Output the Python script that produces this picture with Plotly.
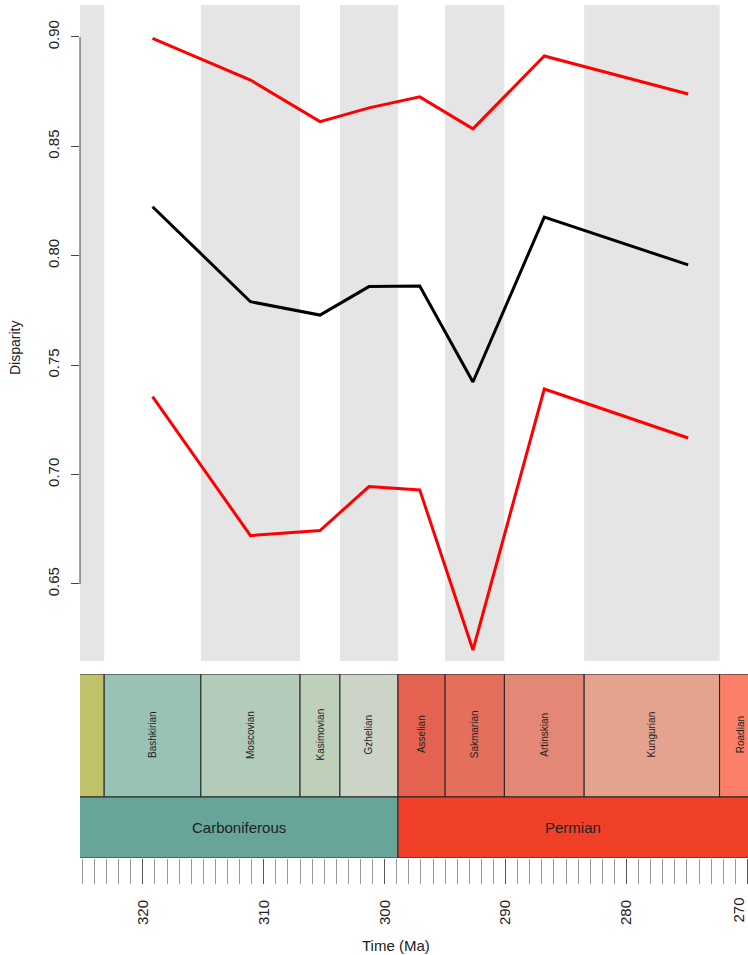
import plotly.graph_objects as go

# Bin midpoints (Ma) and disparity estimates
time_ma = [319.2, 311.1, 305.35, 301.3, 297.1, 292.7, 286.8, 274.9]
disparity = [0.8224, 0.7790, 0.7729, 0.7859, 0.7862, 0.7423, 0.8177, 0.7958]
upper_ci = [0.8994, 0.8803, 0.8613, 0.8676, 0.8726, 0.8580, 0.8913, 0.8739]
lower_ci = [0.7356, 0.6721, 0.6744, 0.6945, 0.6930, 0.6198, 0.7391, 0.7167]

# Stages (GTS2012): name, start, end, colour
stage_names = ["Serpukhovian", "Bashkirian", "Moscovian", "Kasimovian", "Gzhelian",
               "Asselian", "Sakmarian", "Artinskian", "Kungurian", "Roadian"]
stage_start = [330.9, 323.2, 315.2, 307.0, 303.7, 298.9, 295.0, 290.1, 283.5, 272.3]
stage_end = [323.2, 315.2, 307.0, 303.7, 298.9, 295.0, 290.1, 283.5, 272.3, 268.8]
stage_colors = ["#BFC26B", "#99C2B5", "#B3CBB9", "#BFD0BA", "#CCD4C7",
                "#E36350", "#E36F5C", "#E38776", "#E3A38F", "#FB8069"]
stage_labelled = [False, True, True, True, True, True, True, True, True, True]

# Periods
period_names = ["Carboniferous", "Permian"]
period_start = [358.9, 298.9]
period_end = [298.9, 252.2]
period_colors = ["#67A599", "#F04028"]

y_ticks = [0.65, 0.70, 0.75, 0.80, 0.85, 0.90]
x_ticks = [320, 310, 300, 290, 280, 270]

W, H = 748, 955
X_RANGE = [325.2, 269.95]
x_dom = [80 / W, 1.0]
top_dom = [(H - 661) / H, (H - 5) / H]
scale_dom = [(H - 858) / H, (H - 674) / H]
PERIOD_H, SCALE_H = 61, 184
FONT = "Liberation Sans, Arial, sans-serif"

fig = go.Figure()

fig.add_trace(go.Scatter(x=time_ma, y=upper_ci, mode="lines",
                         line=dict(color="#FF0000", width=3), xaxis="x", yaxis="y"))
fig.add_trace(go.Scatter(x=time_ma, y=lower_ci, mode="lines",
                         line=dict(color="#FF0000", width=3), xaxis="x", yaxis="y"))
fig.add_trace(go.Scatter(x=time_ma, y=disparity, mode="lines",
                         line=dict(color="#000000", width=3), xaxis="x", yaxis="y"))
# invisible trace so the timescale axes are drawn
fig.add_trace(go.Scatter(x=[300], y=[0], mode="markers", marker=dict(opacity=0),
                         xaxis="x2", yaxis="y2", hoverinfo="skip"))

shapes = []
annotations = []

# alternating grey stage bands behind the curves
for i in range(len(stage_names)):
    if i % 2 == 0:
        shapes.append(dict(type="rect", xref="x", yref="paper",
                           x0=stage_start[i], x1=stage_end[i],
                           y0=top_dom[0], y1=top_dom[1],
                           fillcolor="#e5e5e5", line=dict(width=0), layer="below"))

# stage row of the timescale
for name, s, e, c, lab in zip(stage_names, stage_start, stage_end, stage_colors, stage_labelled):
    shapes.append(dict(type="rect", xref="x2", yref="y2", x0=s, x1=e,
                       y0=PERIOD_H, y1=SCALE_H, fillcolor=c,
                       line=dict(color="#222222", width=1)))
    if lab:
        annotations.append(dict(x=(s + e) / 2, y=(PERIOD_H + SCALE_H) / 2 + 1,
                                xref="x2", yref="y2", text=name, showarrow=False,
                                textangle=-90, font=dict(family=FONT, size=10, color="#222222")))

# period row of the timescale, labels centred on the visible part of each box
for name, s, e, c in zip(period_names, period_start, period_end, period_colors):
    shapes.append(dict(type="rect", xref="x2", yref="y2", x0=s, x1=e,
                       y0=0, y1=PERIOD_H, fillcolor=c,
                       line=dict(color="#222222", width=1)))
    vis_s = min(s, X_RANGE[0])
    vis_e = max(e, X_RANGE[1])
    annotations.append(dict(x=(vis_s + vis_e) / 2, y=PERIOD_H / 2,
                            xref="x2", yref="y2", text=name, showarrow=False,
                            font=dict(family=FONT, size=15, color="#222222")))

# y axis line spanning only the tick range
shapes.append(dict(type="line", xref="paper", yref="y", x0=x_dom[0], x1=x_dom[0],
                   y0=y_ticks[0], y1=y_ticks[-1], line=dict(color="#444444", width=1)))

# the last tick label sits on the right edge; keep it whole inside the page
edge_label = str(x_ticks[-1])
tick_text = [str(v) for v in x_ticks[:-1]] + [""]
annotations.append(dict(x=1.0, y=(H - 910) / H, xref="paper", yref="paper",
                        xanchor="right", yanchor="middle", textangle=-90,
                        text=edge_label, showarrow=False,
                        font=dict(family=FONT, size=15, color="#222222")))

annotations.append(dict(x=15 / W, y=(H - 348) / H, xref="paper", yref="paper",
                        xanchor="center", yanchor="middle",
                        text="Disparity", showarrow=False, textangle=-90,
                        font=dict(family=FONT, size=14, color="#222222")))
annotations.append(dict(x=396 / W, y=(H - 945) / H, xref="paper", yref="paper",
                        xanchor="center", yanchor="middle",
                        text="Time (Ma)", showarrow=False,
                        font=dict(family=FONT, size=15, color="#222222")))

fig.update_layout(
    width=W, height=H,
    margin=dict(l=0, r=0, t=0, b=0, autoexpand=False),
    paper_bgcolor="white", plot_bgcolor="white",
    showlegend=False,
    shapes=shapes, annotations=annotations,
    xaxis=dict(domain=x_dom, range=X_RANGE, anchor="y", visible=False, automargin=False),
    yaxis=dict(domain=top_dom, range=[0.6148, 0.9146], anchor="x", automargin=False,
               tickvals=y_ticks, ticktext=[f"{v:.2f}" for v in y_ticks],
               ticks="outside", ticklen=8, tickcolor="#444444", tickangle=-90,
               ticklabelstandoff=6,
               showgrid=False, zeroline=False, showline=False,
               tickfont=dict(family=FONT, size=15, color="#222222")),
    xaxis2=dict(domain=x_dom, range=X_RANGE, anchor="y2", automargin=False,
                tickvals=x_ticks, ticktext=tick_text,
                ticks="outside", ticklen=25, tickcolor="#555555", tickangle=-90,
                ticklabelstandoff=10, ticklabeloverflow="allow",
                minor=dict(dtick=1, tick0=270, ticks="outside", ticklen=25, tickcolor="#999999"),
                showgrid=False, zeroline=False, showline=False,
                tickfont=dict(family=FONT, size=15, color="#222222")),
    yaxis2=dict(domain=scale_dom, range=[0, SCALE_H], anchor="x2", visible=False,
                automargin=False),
)

fig.write_html("out.html")
